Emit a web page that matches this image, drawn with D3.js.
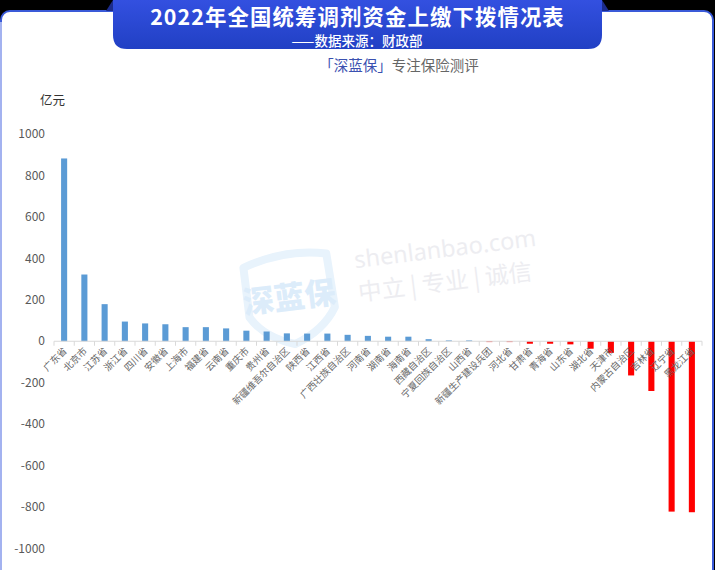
<!DOCTYPE html>
<html><head><meta charset="utf-8">
<script src="https://cdn.jsdelivr.net/npm/d3@7"></script>
<style>html,body{margin:0;padding:0;background:#000;} svg{display:block}</style>
</head><body>
<svg id="c" width="715" height="570"></svg>
<script>
const categories = ["广东省","北京市","江苏省","浙江省","四川省","安徽省","上海市","福建省","云南省","重庆市","贵州省","新疆维吾尔自治区","陕西省","江西省","广西壮族自治区","河南省","湖南省","海南省","西藏自治区","宁夏回族自治区","山西省","新疆生产建设兵团","河北省","甘肃省","青海省","山东省","湖北省","天津市","内蒙古自治区","吉林省","辽宁省","黑龙江省"];
const values = [882,322,179,95,86,82,68,68,62,51,47,38,37,37,31,26,22,22,10,4,4,-4,-4,-12,-12,-15,-36,-56,-165,-240,-822,-825];
const yTicks = [1000,800,600,400,200,0,-200,-400,-600,-800,-1000];
const titleText = "2022年全国统筹调剂资金上缴下拨情况表";
const subtitleText = "——数据来源：财政部";
const unitText = "亿元";

const svg = d3.select("#c");
const F = "'Noto Sans CJK SC','Noto Sans',sans-serif";

// card
svg.append("rect").attr("x",1).attr("y",11).attr("width",712).attr("height",600)
  .attr("rx",9).attr("fill","#fff").attr("stroke","#3a5ad8").attr("stroke-width",2);
svg.append("line").attr("x1",1).attr("x2",1).attr("y1",22).attr("y2",570)
  .attr("stroke","#a3b2f0").attr("stroke-width",2);

// header tab
const defs = svg.append("defs");
const g = defs.append("linearGradient").attr("id","tabg").attr("x1",0).attr("y1",0).attr("x2",0).attr("y2",1);
g.append("stop").attr("offset","0%").attr("stop-color","#3350e0");
g.append("stop").attr("offset","100%").attr("stop-color","#2140c4");
svg.append("path").attr("d","M106,11 L113,0 L113,11 Z").attr("fill","#1c2c8c");
svg.append("path").attr("d","M602,0 L609,11 L602,11 Z").attr("fill","#1c2c8c");
svg.append("path").attr("d","M113,0 H602 V35 Q602,49 588,49 H127 Q113,49 113,35 Z").attr("fill","url(#tabg)");
svg.append("text").attr("x",357.5).attr("y",24.9).attr("text-anchor","middle")
  .attr("font-family",F).attr("font-weight","bold").attr("font-size",21.4).attr("letter-spacing",1.1)
  .attr("fill","#fff").text(titleText);
svg.append("text").attr("x",357).attr("y",45.5).attr("text-anchor","middle")
  .attr("font-family",F).attr("font-weight",500).attr("font-size",13.5).attr("fill","#fff").text(subtitleText);

// brand line
const bt = svg.append("text").attr("x",399).attr("y",71).attr("text-anchor","middle")
  .attr("font-family",F).attr("font-size",14.5);
bt.append("tspan").attr("fill","#3a50b0").text("「深蓝保」");
bt.append("tspan").attr("fill","#666").text("专注保险测评");

// watermark
const wm = svg.append("g").attr("transform","rotate(-7,390,280)");
wm.append("path").attr("d","M246,250 Q290,236 330,246 L332,300 Q318,322 288,332 Q258,322 246,300 Z")
  .attr("fill","none").attr("stroke","#e8f3fc").attr("stroke-width",8).attr("stroke-linejoin","round");
wm.append("text").attr("x",288).attr("y",296).attr("text-anchor","middle").attr("font-family",F)
  .attr("font-weight","900").attr("font-size",31).attr("fill","#dcecfa").text("深蓝保");
wm.append("text").attr("x",357).attr("y",264).attr("font-family","'Noto Sans',sans-serif")
  .attr("font-size",23.5).attr("fill","#ededf1").text("shenlanbao.com");
wm.append("text").attr("x",357).attr("y",297).attr("font-family",F)
  .attr("font-size",23.5).attr("fill","#ededf1").text("中立 | 专业 | 诚信");

// scales
const x = d3.scaleBand().domain(categories).range([54,702]).paddingInner(0.7).paddingOuter(0.35);
const y = d3.scaleLinear().domain([-1000,1000]).range([548.5,134]);

// y labels
svg.append("text").attr("x",40).attr("y",105).attr("font-family",F).attr("font-size",12.5)
  .attr("fill","#333").text(unitText);
svg.append("g").selectAll("text").data(yTicks).join("text")
  .attr("x",45).attr("y",d=>y(d)).attr("dy","0.35em").attr("text-anchor","end")
  .attr("font-family",F).attr("font-size",12).attr("fill","#595959").text(d=>d);

// bars
svg.append("g").selectAll("rect").data(values).join("rect")
  .attr("x",(d,i)=>x(categories[i])).attr("width",x.bandwidth())
  .attr("y",d=>y(Math.max(0,d))).attr("height",d=>Math.abs(y(d)-y(0)))
  .attr("fill",d=>d>=0?"#5b9bd5":"#ff0000");

// x axis
const y0 = y(0);
svg.append("line").attr("x1",54).attr("x2",702).attr("y1",y0).attr("y2",y0)
  .attr("stroke","#d9d9d9").attr("stroke-width",1.2);
const step = x.step();
svg.append("g").selectAll("line").data(d3.range(categories.length+1)).join("line")
  .attr("x1",k=>54+k*step).attr("x2",k=>54+k*step).attr("y1",y0).attr("y2",y0+4.5)
  .attr("stroke","#d9d9d9");
svg.append("g").selectAll("text").data(categories).join("text")
  .attr("transform",d=>`translate(${x(d)+x.bandwidth()/2+1},${y0+8}) rotate(-45)`)
  .attr("text-anchor","end").attr("dy","0.35em")
  .attr("font-family",F).attr("font-size",9.5).attr("fill","#666").text(d=>d);
</script>
</body></html>
